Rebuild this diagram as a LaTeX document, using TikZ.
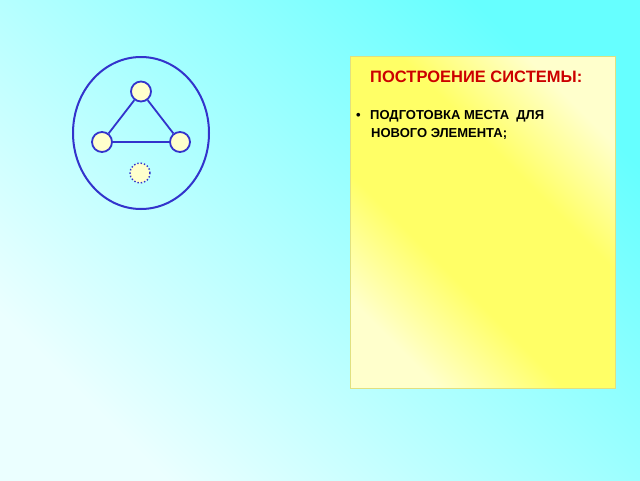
\documentclass[tikz,border=0pt]{standalone}
\usepackage{fontspec}
\setmainfont{Liberation Sans}
\definecolor{skyhi}{RGB}{102,255,255}
\definecolor{skylo}{RGB}{235,255,255}
\definecolor{lineblue}{RGB}{51,51,204}
\definecolor{cream}{RGB}{255,255,204}
\definecolor{lemon}{RGB}{255,255,102}
\definecolor{panelrim}{RGB}{224,224,128}
\definecolor{titlered}{RGB}{204,0,0}
\pgfdeclareverticalshading{panelshade}{100bp}{color(0bp)=(cream); color(25bp)=(cream); color(40bp)=(lemon); color(60bp)=(lemon); color(75bp)=(cream); color(100bp)=(cream)}
\pgfdeclareverticalshading{skyshade}{100bp}{color(0bp)=(skylo); color(25bp)=(skylo); color(75bp)=(skyhi); color(100bp)=(skyhi)}
\tikzset{
    element/.style={inner sep=0pt, circle, fill=cream, draw=lineblue, line width=1.8pt, minimum size=20pt},
    newelement/.style={inner sep=0pt, circle, fill=cream, draw=lineblue, line width=1.4pt, dotted, minimum size=20pt},
    link/.style={draw=lineblue, line width=1.8pt},
    boundary/.style={draw=lineblue, line width=2pt},
    sky/.style={shading=skyshade, shading angle=-45},
    panel/.style={draw=panelrim, line width=0.8pt, shading=panelshade, shading angle=-45},
    heading/.style={inner sep=0pt, anchor=base west, text=titlered, font=\bfseries\fontsize{16.5}{20}\selectfont},
    itemtext/.style={inner sep=0pt, anchor=base west, font=\bfseries\fontsize{13}{16}\selectfont},
}
\begin{document}
\begin{tikzpicture}[x=1pt, y=-1pt]
    \useasboundingbox (0,0) rectangle (640,480);
    \shade[sky] (0,0) rectangle (640,480);
    \draw[boundary] (141,133) ellipse [x radius=68, y radius=76];
    \node[element] (top) at (141,91.5) {};
    \node[element] (left) at (102,142) {};
    \node[element] (right) at (180,142) {};
    \node[newelement] (new) at (140,173) {};
    \draw[link] (top) -- (left);
    \draw[link] (top) -- (right);
    \draw[link] (left) -- (right);
    \path[panel] (350,56) rectangle (615,388);
    \node[heading] (title) at (370,82.5) {ПОСТРОЕНИЕ СИСТЕМЫ:};
    \node[itemtext] (bullet) at (356,119.5) {•};
    \node[itemtext] (step1) at (370,119.5) {ПОДГОТОВКА МЕСТА\ \ ДЛЯ};
    \node[itemtext] (step1b) at (371,137.3) {НОВОГО ЭЛЕМЕНТА;};
\end{tikzpicture}
\end{document}
